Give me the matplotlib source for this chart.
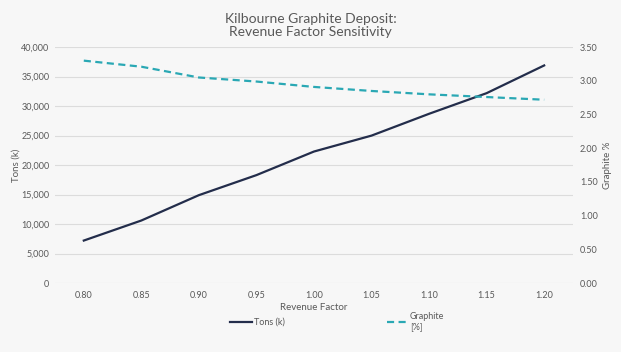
import numpy as np
import matplotlib
matplotlib.use('Agg')
import matplotlib.pyplot as plt
from matplotlib.lines import Line2D

# dados
fatores = ['0.80', '0.85', '0.90', '0.95', '1.00', '1.05', '1.10', '1.15', '1.20']
tons_k = [7200, 10600, 14900, 18300, 22300, 25000, 28700, 32200, 36900]
grafite = [3.30, 3.21, 3.05, 2.99, 2.91, 2.85, 2.80, 2.76, 2.72]

cor_tons = '#232D4B'
cor_graf = '#2AA8B4'
cor_txt = '#595959'
fundo = '#F7F7F7'
tracejado = (0, (3.2, 2.0))

plt.rcParams['font.family'] = ['Lato', 'DejaVu Sans']

fig = plt.figure(figsize=(6.21, 3.52), dpi=100, facecolor=fundo)
ax = fig.add_axes([0.0886, 0.196, 0.834, 0.670], facecolor=fundo)
ax2 = ax.twinx()

x = np.arange(len(fatores))
ax.plot(x, tons_k, color=cor_tons, lw=1.6, zorder=3)
ax2.plot(x, grafite, color=cor_graf, lw=1.6, ls=tracejado, zorder=3)

ax.set_xlim(-0.5, len(fatores) - 0.5)
ax.set_ylim(0, 40000)
ax.set_yticks(np.arange(0, 40001, 5000))
ax.set_yticklabels([f'{v:,}' for v in range(0, 40001, 5000)])
ax2.set_ylim(0, 3.5)
ax2.set_yticks(np.arange(0, 3.51, 0.5))
ax2.set_yticklabels([f'{v:.2f}' for v in np.arange(0, 3.51, 0.5)])
ax.set_xticks(x)
ax.set_xticklabels(fatores)

ax.grid(axis='y', color='#DCDCDC', lw=0.8)
ax.set_axisbelow(True)
for a in (ax, ax2):
    for s in a.spines.values():
        s.set_visible(False)
    a.tick_params(length=0, labelsize=6.5, colors=cor_txt)
ax.tick_params(axis='y', pad=4)
ax2.tick_params(axis='y', pad=5)
ax.tick_params(axis='x', pad=6)

ax.set_xlabel('Revenue Factor', fontsize=7, color=cor_txt, labelpad=2)
ax.set_ylabel('Tons (k)', fontsize=7, color=cor_txt, labelpad=0.5)
ax2.set_ylabel('Graphite %', fontsize=7, color=cor_txt, labelpad=4, rotation=90)

fig.text(0.5, 0.962, 'Kilbourne Graphite Deposit:\nRevenue Factor Sensitivity',
         ha='center', va='top', fontsize=10, color=cor_txt, linespacing=1.1)

handles = [Line2D([], [], color=cor_tons, lw=1.6),
           Line2D([], [], color=cor_graf, lw=1.6, ls=tracejado)]
fig.legend(handles, ['Tons (k)', 'Graphite\n[%]'], loc='upper left',
           bbox_to_anchor=(0.365, 0.125), ncol=2, frameon=False, fontsize=6.5,
           labelcolor=cor_txt, handlelength=2.4, handletextpad=0.2,
           columnspacing=11.3, borderaxespad=0)

fig.savefig('out.png', dpi=100, facecolor=fundo)
